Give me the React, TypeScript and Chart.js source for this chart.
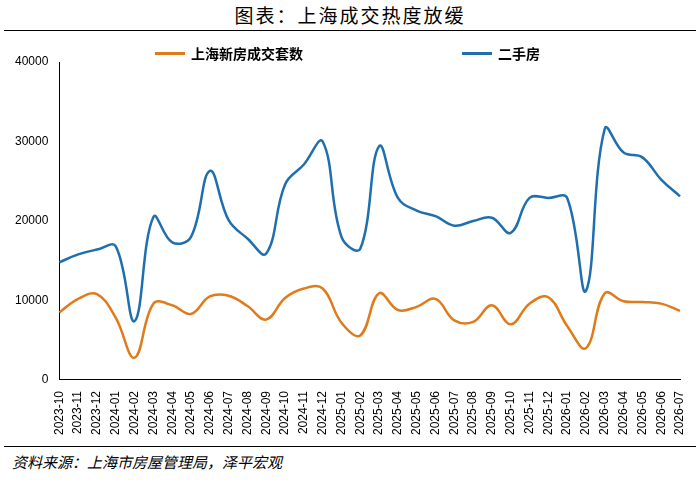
import React, { useEffect, useRef } from "react";
import { Chart, registerables } from "chart.js";
Chart.register(...registerables);

const categories = ["2023-10","2023-11","2023-12","2024-01","2024-02","2024-03","2024-04","2024-05","2024-06","2024-07","2024-08","2024-09","2024-10","2024-11","2024-12","2025-01","2025-02","2025-03","2025-04","2025-05","2025-06","2025-07","2025-08","2025-09","2025-10","2025-11","2025-12","2026-01","2026-02","2026-03","2026-04","2026-05","2026-06","2026-07"];
const newHome = [8500,10200,10800,7800,2800,9600,9400,8300,10500,10600,9300,7600,10300,11500,11500,7200,5600,10900,8800,9200,10200,7500,7300,9400,7000,9600,10400,6800,4000,10900,9900,9800,9600,8700];
const secondHand = [14800,15800,16400,16800,7400,20500,17300,18000,26300,20100,17800,15900,24600,27100,30000,18000,16500,29400,22900,21300,20600,19400,20000,20400,18500,22900,22900,22900,11200,31600,28600,28000,25200,23100];
const yTicks = [0,10000,20000,30000,40000];
const seriesNames = ["上海新房成交套数", "二手房"];
const colors = ["#E07B1B", "#1F6FAE"];

export default function App() {
  const ref = useRef<HTMLCanvasElement>(null);
  useEffect(() => {
    const chart = new Chart(ref.current!, {
      type: "line",
      data: {
        labels: categories,
        datasets: [
          { label: seriesNames[0], data: newHome, borderColor: colors[0], borderWidth: 2.5, pointRadius: 0, tension: 0.4, fill: false },
          { label: seriesNames[1], data: secondHand, borderColor: colors[1], borderWidth: 2.5, pointRadius: 0, tension: 0.4, fill: false },
        ],
      },
      options: {
        animation: false,
        responsive: false,
        layout: { padding: { left: 12, right: 20, top: 22, bottom: 0 } },
        plugins: { legend: { display: false }, tooltip: { enabled: false } },
        scales: {
          x: {
            grid: { display: false },
            border: { color: "#000" },
            ticks: { maxRotation: 90, minRotation: 90, autoSkip: false, color: "#000", font: { size: 12, family: "Liberation Sans" } },
          },
          y: {
            min: 0, max: 40000,
            afterBuildTicks: (a: any) => { a.ticks = yTicks.map(v => ({ value: v })); },
            grid: { display: false },
            border: { color: "#000" },
            ticks: { color: "#000", font: { size: 12, family: "Liberation Sans" }, callback: (v: any) => String(v) },
          },
        },
      },
    });
    return () => chart.destroy();
  }, []);
  const legendItem = (i: number, left: number) => (
    <div style={{ position: "absolute", top: 43, left, display: "flex", alignItems: "center", fontSize: 14, fontWeight: "bold" }}>
      <span style={{ display: "inline-block", width: 30, height: 3, background: colors[i], marginRight: 6 }} />
      {seriesNames[i]}
    </div>
  );
  return (
    <div style={{ position: "fixed", left: 0, top: 0, width: 700, height: 480, background: "#fff", fontFamily: "Noto Sans CJK SC" }}>
      <div style={{ height: 30, textAlign: "center", fontSize: 19, lineHeight: "30px", letterSpacing: 2, borderBottom: "1.5px solid #000", margin: "0 4px" }}>图表：上海成交热度放缓</div>
      <canvas ref={ref} width={700} height={398} style={{ display: "block", position: "absolute", top: 40, left: 0 }} />
      {legendItem(0, 155)}
      {legendItem(1, 462)}
      <div style={{ position: "absolute", top: 446, left: 4, right: 4, borderTop: "1.5px solid #000", fontSize: 15, fontStyle: "italic", paddingTop: 4, paddingLeft: 8 }}>资料来源：上海市房屋管理局，泽平宏观</div>
    </div>
  );
}
